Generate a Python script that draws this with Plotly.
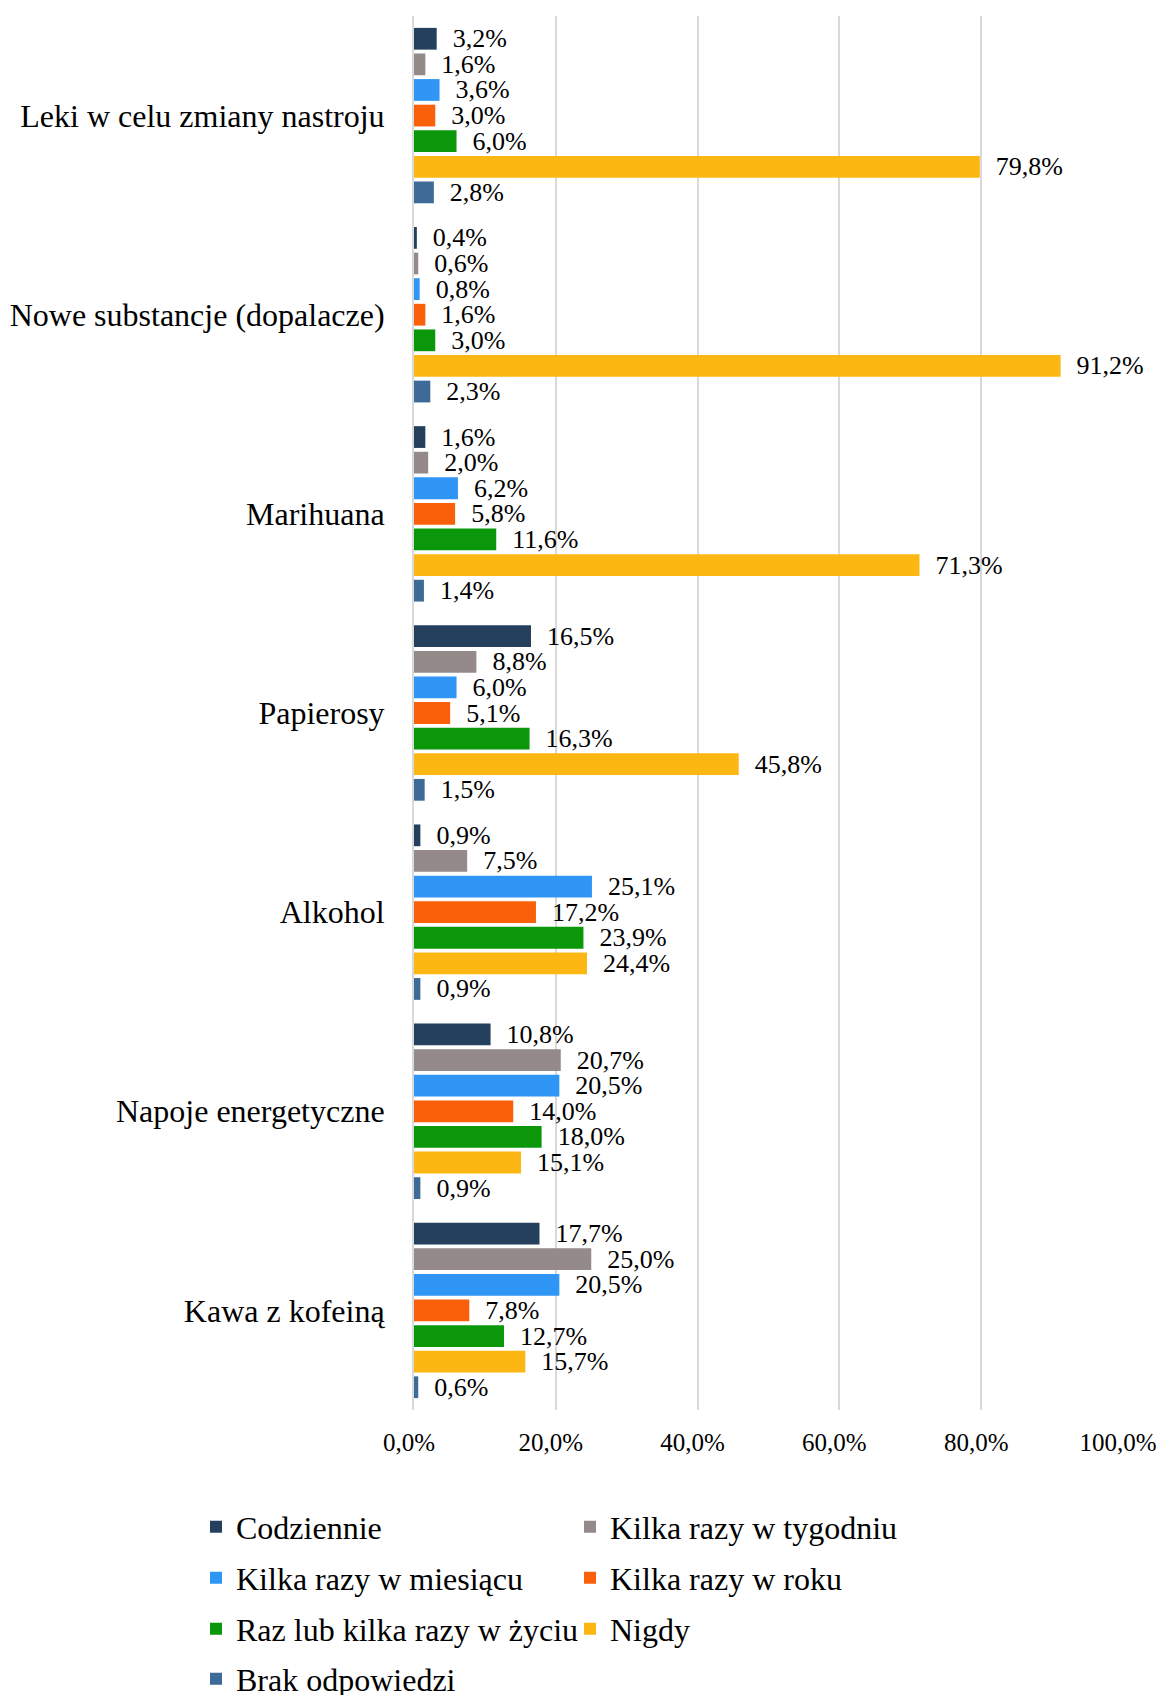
import plotly.graph_objects as go

categories = [
    "Leki w celu zmiany nastroju",
    "Nowe substancje (dopalacze)",
    "Marihuana",
    "Papierosy",
    "Alkohol",
    "Napoje energetyczne",
    "Kawa z kofeiną",
]

series_names = [
    "Codziennie",
    "Kilka razy w tygodniu",
    "Kilka razy w miesiącu",
    "Kilka razy w roku",
    "Raz lub kilka razy w życiu",
    "Nigdy",
    "Brak odpowiedzi",
]

codziennie = [3.2, 0.4, 1.6, 16.5, 0.9, 10.8, 17.7]
tygodniu = [1.6, 0.6, 2.0, 8.8, 7.5, 20.7, 25.0]
miesiacu = [3.6, 0.8, 6.2, 6.0, 25.1, 20.5, 20.5]
roku = [3.0, 1.6, 5.8, 5.1, 17.2, 14.0, 7.8]
zyciu = [6.0, 3.0, 11.6, 16.3, 23.9, 18.0, 12.7]
nigdy = [79.8, 91.2, 71.3, 45.8, 24.4, 15.1, 15.7]
brak = [2.8, 2.3, 1.4, 1.5, 0.9, 0.9, 0.6]

series_values = [codziennie, tygodniu, miesiacu, roku, zyciu, nigdy, brak]

colors = ["#25405C", "#958A8A", "#2F96F5", "#FA5F0A", "#0A980A", "#FCB712", "#3D6A96"]

x_ticks = [0, 20, 40, 60, 80, 100]
x_tick_labels = [f"{v:.1f}".replace(".", ",") + "%" for v in x_ticks]

FONT = "Liberation Serif, Times New Roman, serif"
# page body has an 8px default margin -> figure is smaller and shifted by 8px
W, H = 1157, 1687
ML, MR, MT, MB = 406, 42, 8, 285
PW, PH = W - ML - MR, H - MT - MB

# legend rows (one legend per row, two entries per row), figure coordinates
legend_ids = ["legend", "legend", "legend2", "legend2", "legend3", "legend3", "legend4"]
row_centers = [1519, 1570, 1621, 1671]
legend_left = 188

fig = go.Figure()
for name, vals, col, lg in zip(series_names, series_values, colors, legend_ids):
    fig.add_trace(go.Bar(
        y=categories,
        x=vals,
        name=name,
        orientation="h",
        marker=dict(color=col, line=dict(width=0)),
        text=["\u00a0\u00a0" + f"{v:.1f}".replace(".", ",") + "%" for v in vals],
        textposition="outside",
        textfont=dict(family=FONT, size=26, color="black"),
        constraintext="none",
        cliponaxis=False,
        legend=lg,
    ))

legend_common = dict(
    orientation="h",
    xref="paper",
    yref="paper",
    x=(legend_left - ML) / PW,
    xanchor="left",
    yanchor="middle",
    font=dict(family=FONT, size=32, color="black"),
    entrywidth=329,
    entrywidthmode="pixels",
    bgcolor="rgba(0,0,0,0)",
    traceorder="normal",
)

fig.update_layout(
    width=W,
    height=H,
    barmode="group",
    bargap=0.1,
    bargroupgap=0.15,
    plot_bgcolor="white",
    paper_bgcolor="white",
    separators=", ",
    margin=dict(l=ML, r=MR, t=MT, b=MB, autoexpand=False),
    font=dict(family=FONT, color="black"),
    legend=dict(legend_common, y=(H - MB - row_centers[0]) / PH),
    legend2=dict(legend_common, y=(H - MB - row_centers[1]) / PH),
    legend3=dict(legend_common, y=(H - MB - row_centers[2]) / PH),
    legend4=dict(legend_common, y=(H - MB - row_centers[3]) / PH),
    xaxis=dict(
        range=[0, 100],
        tickmode="array",
        tickvals=x_ticks,
        ticktext=x_tick_labels,
        showgrid=True,
        gridcolor="#d9d9d9",
        gridwidth=2,
        zeroline=False,
        showline=False,
        ticks="",
        ticklabelstandoff=15,
        ticklabelshift=-5,
        tickfont=dict(family=FONT, size=25, color="black"),
        fixedrange=True,
    ),
    yaxis=dict(
        autorange="reversed",
        showline=True,
        linecolor="#d9d9d9",
        linewidth=2,
        ticks="",
        ticklabelstandoff=21,
        tickfont=dict(family=FONT, size=32, color="black"),
        fixedrange=True,
    ),
)

fig.write_html("out.html")
